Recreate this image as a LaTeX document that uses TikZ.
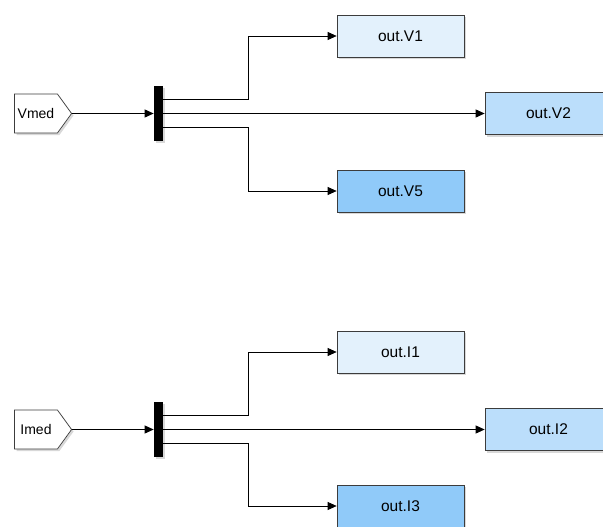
\documentclass[tikz,border=0pt]{standalone}
\usepackage{fontspec}
\setmainfont{Liberation Sans}
\usepackage{xcolor}
\usetikzlibrary{positioning,calc,arrows.meta,shapes.symbols,shadows}
\definecolor{outlight}{HTML}{E3F1FC}
\definecolor{outmid}{HTML}{BBDEFB}
\definecolor{outdark}{HTML}{90CAF9}
\definecolor{blockedge}{HTML}{3C3C3C}

\begin{document}
\begin{tikzpicture}[x=1pt,y=-1pt,>={Triangle[length=9pt,width=8pt]},
                line width=0.7pt,
                out block/.style={rectangle,draw=blockedge,minimum width=127pt,minimum height=42pt,
                    font=\fontsize{15.5}{17}\selectfont,drop shadow={opacity=0.3,shadow xshift=2pt,shadow yshift=-2pt}},
                bus bar/.style={rectangle,fill=black,minimum width=9pt,minimum height=55pt,inner sep=0pt,
                    drop shadow={opacity=0.3,shadow xshift=2pt,shadow yshift=-2pt}},
                from tag/.style={signal,signal to=east,signal pointer angle=108,draw=blockedge,fill=white,
                    minimum width=57pt,minimum height=39pt,inner sep=1pt,text width=40pt,align=center,
                    font=\fontsize{14}{16}\selectfont,
                    drop shadow={opacity=0.3,shadow xshift=2pt,shadow yshift=-2pt}}]
\clip (0,0) rectangle (603,527);
\fill[white] (0,0) rectangle (603,527);
%Nodes
    \node[from tag] (Vmed) at (36,113.5) {Vmed};
    \node[bus bar] (Vbus) at (158.5,113.5) {};
    \node[out block, fill=outlight] (V1) at (400.5,36) {out.V1};
    \node[out block, fill=outmid] (V2) at (548.5,113.5) {out.V2};
    \node[out block, fill=outdark] (V5) at (400.5,191) {out.V5};

    \node[from tag] (Imed) at (36,429.5) {Imed};
    \node[bus bar] (Ibus) at (158.5,429.5) {};
    \node[out block, fill=outlight] (I1) at (400.5,352) {out.I1};
    \node[out block, fill=outmid] (I2) at (548.5,429.5) {out.I2};
    \node[out block, fill=outdark] (I3) at (400.5,506) {out.I3};

%Signals
    \draw[->] (Vmed.east) -- (Vbus.west);
    \draw[->] ([yshift=14pt]Vbus.east) -- ++(85,0) |- (V1.west);
    \draw[->] (Vbus.east) -- (V2.west);
    \draw[->] ([yshift=-14pt]Vbus.east) -- ++(85,0) |- (V5.west);

    \draw[->] (Imed.east) -- (Ibus.west);
    \draw[->] ([yshift=14pt]Ibus.east) -- ++(85,0) |- (I1.west);
    \draw[->] (Ibus.east) -- (I2.west);
    \draw[->] ([yshift=-14pt]Ibus.east) -- ++(85,0) |- (I3.west);
\end{tikzpicture}
\end{document}
